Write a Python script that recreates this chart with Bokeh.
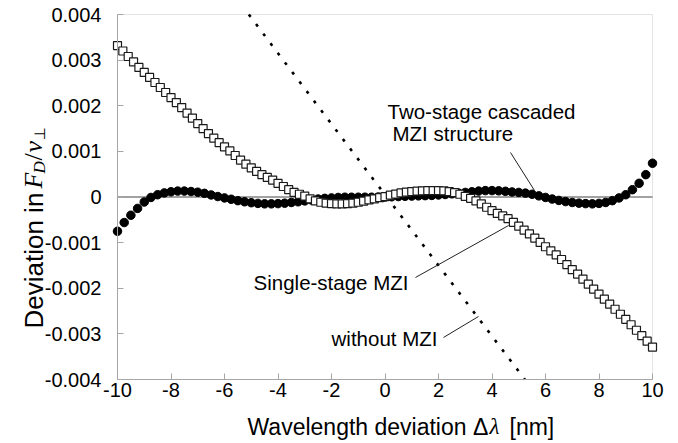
from bokeh.plotting import figure
from bokeh.models import Range1d, FixedTicker, Label, LinearAxis, BoxAnnotation
from bokeh.embed import file_html
from bokeh.resources import INLINE

# ---------------- data ----------------
# Single-stage MZI (open squares), wavelength deviation [nm]
single_x = [-10.0, -9.8, -9.6, -9.4, -9.2, -9.0, -8.8, -8.6, -8.4, -8.2,
            -8.0, -7.8, -7.6, -7.4, -7.2, -7.0, -6.8, -6.6, -6.4, -6.2,
            -6.0, -5.8, -5.6, -5.4, -5.2, -5.0, -4.8, -4.6, -4.4, -4.2,
            -4.0, -3.8, -3.6, -3.4, -3.2, -3.0, -2.8, -2.6, -2.4, -2.2,
            -2.0, -1.8, -1.6, -1.4, -1.2, -1.0, -0.8, -0.6, -0.4, -0.2,
            0.0, 0.2, 0.4, 0.6, 0.8, 1.0, 1.2, 1.4, 1.6, 1.8,
            2.0, 2.2, 2.4, 2.6, 2.8, 3.0, 3.2, 3.4, 3.6, 3.8,
            4.0, 4.2, 4.4, 4.6, 4.8, 5.0, 5.2, 5.4, 5.6, 5.8,
            6.0, 6.2, 6.4, 6.6, 6.8, 7.0, 7.2, 7.4, 7.6, 7.8,
            8.0, 8.2, 8.4, 8.6, 8.8, 9.0, 9.2, 9.4, 9.6, 9.8, 10.0]
# deviation in units of 1e-4
single_y_e4 = [33.2, 32.0, 30.8, 29.6, 28.4, 27.3, 26.2, 25.1, 24.0, 22.9,
               21.8, 20.7, 19.6, 18.4, 17.3, 16.1, 15.0, 13.9, 12.9, 11.9,
               11.0, 10.1, 9.1, 8.1, 7.2, 6.4, 5.6, 4.9, 4.3, 3.7,
               3.0, 2.3, 1.6, 1.0, 0.6, 0.2, -0.4, -0.85, -1.15, -1.35,
               -1.45, -1.5, -1.5, -1.45, -1.35, -1.15, -0.9, -0.65, -0.4, -0.15,
               0.1, 0.4, 0.65, 0.9, 1.05, 1.2, 1.3, 1.35, 1.4, 1.4,
               1.4, 1.35, 1.2, 0.95, 0.6, 0.15, -0.3, -0.85, -1.5, -2.25,
               -3.0, -3.6, -4.15, -4.75, -5.55, -6.4, -7.25, -8.1, -9.0, -9.95,
               -10.9, -11.8, -12.7, -13.7, -14.8, -15.9, -16.9, -18.0, -19.1, -20.2,
               -21.3, -22.4, -23.5, -24.6, -25.7, -26.8, -28.0, -29.2, -30.4, -31.6, -32.9]

# Two-stage cascaded MZI structure (filled circles)
two_x = [-10.0, -9.75, -9.5, -9.25, -9.0, -8.75, -8.5, -8.25, -8.0, -7.75,
         -7.5, -7.25, -7.0, -6.75, -6.5, -6.25, -6.0, -5.75, -5.5, -5.25,
         -5.0, -4.75, -4.5, -4.25, -4.0, -3.75, -3.5, -3.25, -3.0, -2.75,
         -2.5, -2.25, -2.0, -1.75, -1.5, -1.25, -1.0, -0.75, -0.5, -0.25,
         0.0, 0.25, 0.5, 0.75, 1.0, 1.25, 1.5, 1.75, 2.0, 2.25,
         2.5, 2.75, 3.0, 3.25, 3.5, 3.75, 4.0, 4.25, 4.5, 4.75,
         5.0, 5.25, 5.5, 5.75, 6.0, 6.25, 6.5, 6.75, 7.0, 7.25,
         7.5, 7.75, 8.0, 8.25, 8.5, 8.75, 9.0, 9.25, 9.5, 9.75, 10.0]
two_y_e4 = [-7.5, -5.6, -4.0, -2.5, -1.1, -0.1, 0.5, 0.9, 1.15, 1.3,
            1.3, 1.2, 1.05, 0.8, 0.45, 0.1, -0.2, -0.5, -0.8, -1.05,
            -1.25, -1.4, -1.5, -1.5, -1.45, -1.35, -1.2, -1.05, -0.85, -0.65,
            -0.45, -0.3, -0.2, -0.1, -0.05, -0.05, -0.05, -0.05, -0.05, 0.0,
            0.0, 0.05, 0.1, 0.15, 0.2, 0.25, 0.3, 0.35, 0.45, 0.55,
            0.7, 0.85, 1.0, 1.15, 1.3, 1.4, 1.4, 1.35, 1.25, 1.1,
            1.0, 0.85, 0.6, 0.25, -0.1, -0.45, -0.75, -1.0, -1.2, -1.35,
            -1.45, -1.5, -1.4, -1.2, -0.8, -0.2, 0.5, 1.6, 3.0, 4.9, 7.4]

# Without MZI (dotted line)
without_x = [-5.09, -4.0, -2.0, 0.0, 2.0, 4.0, 5.23]
without_y = [0.004, 0.00315, 0.0016, 0.00005, -0.0015, -0.00305, -0.004]

# zero reference line
zero_x = [-10.0, 10.0]
zero_y = [0.0, 0.0]

x_ticks = [-10, -8, -6, -4, -2, 0, 2, 4, 6, 8, 10]
x_tick_labels = ["-10", "-8", "-6", "-4", "-2", "0", "2", "4", "6", "8", "10"]
y_ticks = [-0.004, -0.003, -0.002, -0.001, 0.0, 0.001, 0.002, 0.003, 0.004]
y_tick_labels = ["-0.004", "-0.003", "-0.002", "-0.001", "0",
                 "0.001", "0.002", "0.003", "0.004"]

single_y = [v * 1e-4 for v in single_y_e4]
two_y = [v * 1e-4 for v in two_y_e4]

# ---------------- layout ----------------
W, H = 678, 443
XMIN, XMAX = -10.0, 10.0
YMIN, YMAX = -0.004, 0.004
LEFT, RIGHT, TOP, BOTTOM = 117, 26, 14, 64     # pixel margins round the data box
xs = (W - LEFT - RIGHT) / (XMAX - XMIN)
ys = (H - TOP - BOTTOM) / (YMAX - YMIN)
x_range = Range1d(XMIN - LEFT / xs, XMAX + RIGHT / xs)
y_range = Range1d(YMIN - BOTTOM / ys, YMAX + TOP / ys)

GRAY = "#a6a6a6"
SANS = "Liberation Sans"
SERIF = "Liberation Serif"

p = figure(width=W, height=H, output_backend="svg", toolbar_location=None,
           x_range=x_range, y_range=y_range,
           x_axis_type=None, y_axis_type=None,
           min_border=0, min_border_left=0, min_border_right=0,
           min_border_top=0, min_border_bottom=0, outline_line_color=None,
           background_fill_color="white", border_fill_color="white")
p.grid.visible = False

xaxis = LinearAxis(fixed_location=YMIN, bounds=(XMIN, XMAX),
                   ticker=FixedTicker(ticks=x_ticks),
                   major_label_overrides={t: s for t, s in zip(x_ticks, x_tick_labels)})
yaxis = LinearAxis(fixed_location=XMIN, bounds=(YMIN, YMAX),
                   ticker=FixedTicker(ticks=y_ticks),
                   major_label_overrides={t: s for t, s in zip(y_ticks, y_tick_labels)})
for ax in (xaxis, yaxis):
    ax.axis_line_color = GRAY
    ax.major_tick_line_color = GRAY
    ax.major_tick_in = 6
    ax.major_tick_out = 0
    ax.minor_tick_line_color = None
    ax.major_label_text_font = SANS
    ax.major_label_text_font_size = "20px"
    ax.major_label_text_color = "black"
yaxis.major_label_standoff = 16
xaxis.major_label_standoff = 3
p.add_layout(xaxis, "below")
p.add_layout(yaxis, "left")

# data box border
p.add_layout(BoxAnnotation(left=XMIN, right=XMAX, bottom=YMIN, top=YMAX,
                           fill_alpha=0, line_color=GRAY, line_width=1,
                           level="underlay"))

p.line(zero_x, zero_y, line_color="#444444", line_width=1)
p.line(without_x, without_y, line_color="black", line_width=2.6,
       line_dash="3 9")
p.scatter(two_x, two_y, marker="circle", size=8.5, fill_color="black",
          line_color="black")
p.scatter(single_x, single_y, marker="square", size=8, fill_color="white",
          line_color="#1a1a1a", line_width=1.2)

# leader lines
p.line([4.692, 5.589], [0.000975, 0.000142], line_color="#222222", line_width=1)
p.line([1.140, 4.617], [-0.001764, -0.000625], line_color="#222222", line_width=1)
p.line([2.187, 3.495], [-0.003079, -0.002619], line_color="#222222", line_width=1)

def lab(x, y, text, align="left", size="20.5px"):
    p.add_layout(Label(x=x, y=y, text=text, text_align=align,
                       text_baseline="middle", text_font=SANS,
                       text_font_size=size, text_color="black"))

lab(0.093, 0.001874, "Two-stage cascaded")
lab(0.28, 0.001392, "MZI structure")
lab(0.879, -0.001874, "Single-stage MZI", align="right")
lab(1.963, -0.003101, "without MZI", align="right")

# ---- axis titles built from pieces (canvas pixel positions) ----
def slab(cx, cy, text, font, size, style="normal", angle=0.0):
    p.add_layout(Label(x=cx, y=H - cy, x_units="screen", y_units="screen",
                       text=text, text_font=font, text_font_size=size,
                       text_font_style=style, angle=angle, text_align="left",
                       text_baseline="alphabetic", text_color="black"))

# x title
slab(247, 426, "Wavelength deviation \u0394", SANS, "23px")
slab(489, 426, "\u03bb", SERIF, "23px", style="italic")
slab(509, 426, "[nm]", SANS, "23px")

# y title (rotated)
A = 1.5707963
slab(33, 328, "Deviation in", SANS, "26px", angle=A)
slab(33, 188, "F", SERIF, "26px", style="italic", angle=A)
slab(39, 173, "D", SERIF, "17px", style="italic", angle=A)
slab(33, 160, "/", SERIF, "26px", angle=A)
slab(33, 152, "v", SERIF, "26px", style="italic", angle=A)
slab(39, 140, "\u22a5", "DejaVu Sans", "15px", angle=A)

open("out.html", "w").write(file_html(p, INLINE))
